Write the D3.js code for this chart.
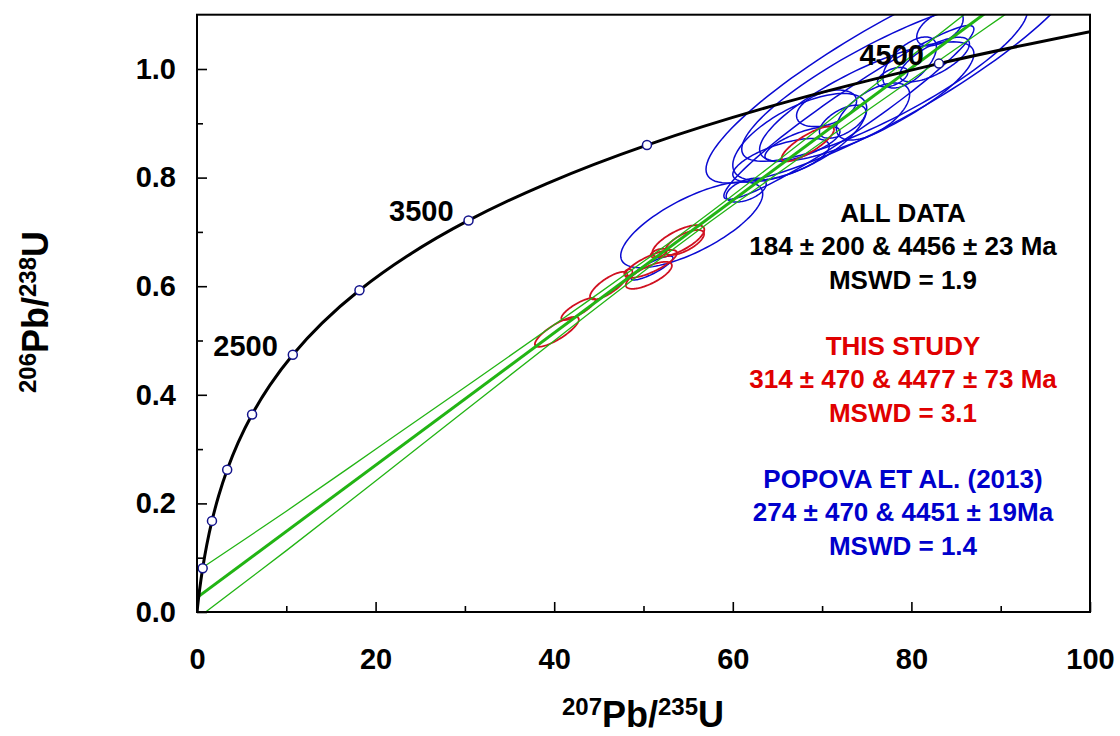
<!DOCTYPE html>
<html>
<head>
<meta charset="utf-8">
<script src="https://cdn.jsdelivr.net/npm/d3@7"></script>
<style>
  body { margin: 0; background: #fff; }
  svg text { font-family: "Liberation Sans", Arial, sans-serif; font-weight: bold; }
</style>
</head>
<body>
<div class="chart"></div>
<script>

	/* ---------------------------------
		Data
	------------------------------------*/

	// concordia curve, ages in Ma
	var concAge = [0, 250, 500, 750, 1000, 1250, 1500, 1750, 2000, 2250, 2500, 2750, 3000, 3250, 3500, 3750, 4000, 4250, 4500, 4686];
	var concX   = [0, 0.279, 0.636, 1.093, 1.677, 2.425, 3.381, 4.604, 6.169, 8.170, 10.730, 14.004, 18.193, 23.551, 30.405, 39.173, 50.389, 64.734, 83.085, 100];
	var concY   = [0, 0.0395, 0.0807, 0.1234, 0.1678, 0.2140, 0.2620, 0.3119, 0.3638, 0.4177, 0.4737, 0.5320, 0.5926, 0.6556, 0.7211, 0.7891, 0.8599, 0.9334, 1.0099, 1.0688];

	// age markers and labelled ages
	var markerAges = [500, 1000, 1500, 2000, 2500, 3000, 3500, 4000, 4500];
	var labelAges  = [2500, 3500, 4500];

	// discordia (best fit) and its error envelope
	var discX   = [0, 100];
	var discY   = [0.0265, 1.2458];
	var envX    = [0, 10, 20, 30, 40, 50, 55, 60, 70, 80, 90, 100];
	var envUp   = [0.075, 0.1856, 0.2997, 0.4140, 0.5289, 0.6454, 0.7053, 0.7673, 0.8946, 1.0237, 1.1532, 1.2829];
	var envLow  = [-0.012, 0.113, 0.2411, 0.3706, 0.4997, 0.6270, 0.6889, 0.7489, 0.8654, 0.9803, 1.0946, 1.2087];

	// error ellipses: centre x, centre y, half width x, half height y, correlation
	var redX   = [40.3, 42.7, 46.1, 51.7, 53.9, 54.6, 50.84, 50.6, 48.3, 68.4];
	var redY   = [0.516, 0.558, 0.601, 0.661, 0.683, 0.6805, 0.641, 0.620, 0.625, 0.862];
	var redSx  = [2.46, 1.90, 2.09, 0.90, 2.91, 2.18, 2.91, 2.58, 0.45, 2.93];
	var redSy  = [0.0276, 0.0203, 0.0254, 0.008, 0.0295, 0.023, 0.0258, 0.0249, 0.0064, 0.0322];
	var redRho = [0.82, 0.82, 0.78, 0.5, 0.72, 0.68, 0.78, 0.72, 0.3, 0.82];

	var blueX   = [55.4, 50.95, 61.5, 70.5, 67.8, 72.3, 79.8, 82.6, 83.2, 77.9, 65.4, 75.7, 78, 77, 75, 67.5, 73];
	var blueY   = [0.713, 0.6335, 0.777, 0.9276, 0.862, 0.903, 1.012, 1.0175, 1.0755, 0.985, 0.832, 0.9217, 1.0, 0.98, 0.94, 0.875, 0.92];
	var blueSx  = [7.95, 2.35, 2.24, 3.36, 4.2, 2.6, 3.0, 3.9, 2.6, 1.7, 5.4, 4.1, 21, 16, 12, 7.5, 14];
	var blueSy  = [0.079, 0.022, 0.022, 0.0337, 0.0322, 0.0304, 0.047, 0.041, 0.033, 0.018, 0.040, 0.0525, 0.21, 0.15, 0.11, 0.08, 0.16];
	var blueRho = [0.72, 0.85, 0.5, 0.4, 0.7, 0.6, 0.6, 0.7, 0.5, 0.5, 0.65, 0.6, 0.88, 0.85, 0.8, 0.65, 0.96];

	// axes
	var xMajor = [0, 20, 40, 60, 80, 100];
	var xMinor = [10, 30, 50, 70, 90];
	var yMajor = [0, 0.2, 0.4, 0.6, 0.8, 1.0];
	var yMinor = [0.1, 0.3, 0.5, 0.7, 0.9];

	// results text
	var resultLines = [
		["ALL DATA", "184 \u00b1 200 & 4456 \u00b1 23 Ma", "MSWD = 1.9"],
		["THIS STUDY", "314 \u00b1 470 & 4477 \u00b1 73 Ma", "MSWD = 3.1"],
		["POPOVA ET AL. (2013)", "274 \u00b1 470 & 4451 \u00b1 19Ma", "MSWD = 1.4"]
	];
	var resultColors = ["#000000", "#e00000", "#0000cc"];


	/* ---------------------------------
		Setup
	------------------------------------*/

	var w = 1120;
	var h = 736;

	var xScale = d3.scaleLinear().domain([0, 100]).range([197, 1090]);
	var yScale = d3.scaleLinear().domain([0, 1.1]).range([612, 14.7]);

	var svg = d3.select(".chart")
				.append("svg")
				.attr("width", w)
				.attr("height", h);

	svg.append("clipPath")
		.attr("id", "plotClip")
		.append("rect")
		.attr("x", xScale(0))
		.attr("y", yScale(1.1))
		.attr("width", xScale(100) - xScale(0))
		.attr("height", yScale(0) - yScale(1.1));

	var plot = svg.append("g").attr("clip-path", "url(#plotClip)");

	// ellipse outline from half widths and correlation
	function ellipsePath(cx, cy, sx, sy, rho) {
		var pts = [];
		var k = Math.sqrt(1 - rho * rho);
		for (var i = 0; i <= 120; i++) {
			var t = i / 120 * 2 * Math.PI;
			pts.push([
				xScale(cx + sx * Math.cos(t)),
				yScale(cy + sy * (rho * Math.cos(t) + k * Math.sin(t)))
			]);
		}
		return d3.line()(pts) + "Z";
	}


	/* ---------------------------------
		Ellipses
	------------------------------------*/

	plot.selectAll(".blueEll")
		.data(blueX)
		.enter()
		.append("path")
		.attr("class", "blueEll")
		.attr("d", function(d, i) { return ellipsePath(blueX[i], blueY[i], blueSx[i], blueSy[i], blueRho[i]); })
		.attr("fill", "none")
		.attr("stroke", "#0a0ad2")
		.attr("stroke-width", 1.5);

	plot.selectAll(".redEll")
		.data(redX)
		.enter()
		.append("path")
		.attr("class", "redEll")
		.attr("d", function(d, i) { return ellipsePath(redX[i], redY[i], redSx[i], redSy[i], redRho[i]); })
		.attr("fill", "none")
		.attr("stroke", "#d01020")
		.attr("stroke-width", 1.8);


	/* ---------------------------------
		Discordia
	------------------------------------*/

	var envLine = d3.line()
		.x(function(d) { return xScale(d[0]); })
		.y(function(d) { return yScale(d[1]); })
		.curve(d3.curveCatmullRom);

	plot.append("path")
		.datum(envX.map(function(d, i) { return [d, envUp[i]]; }))
		.attr("d", envLine)
		.attr("fill", "none")
		.attr("stroke", "#22b414")
		.attr("stroke-width", 1.3);

	plot.append("path")
		.datum(envX.map(function(d, i) { return [d, envLow[i]]; }))
		.attr("d", envLine)
		.attr("fill", "none")
		.attr("stroke", "#22b414")
		.attr("stroke-width", 1.3);

	plot.append("path")
		.datum(discX.map(function(d, i) { return [d, discY[i]]; }))
		.attr("d", d3.line().x(function(d) { return xScale(d[0]); }).y(function(d) { return yScale(d[1]); }))
		.attr("fill", "none")
		.attr("stroke", "#22b414")
		.attr("stroke-width", 3);


	/* ---------------------------------
		Concordia
	------------------------------------*/

	plot.append("path")
		.datum(concX.map(function(d, i) { return [d, concY[i]]; }))
		.attr("d", d3.line()
			.x(function(d) { return xScale(d[0]); })
			.y(function(d) { return yScale(d[1]); })
			.curve(d3.curveCatmullRom))
		.attr("fill", "none")
		.attr("stroke", "#000")
		.attr("stroke-width", 3);

	svg.selectAll(".ageDot")
		.data(markerAges)
		.enter()
		.append("circle")
		.attr("class", "ageDot")
		.attr("cx", function(d) { return xScale(concX[concAge.indexOf(d)]); })
		.attr("cy", function(d) { return yScale(concY[concAge.indexOf(d)]); })
		.attr("r", 4.5)
		.attr("fill", "#fff")
		.attr("stroke", "#14148c")
		.attr("stroke-width", 1.5);

	svg.selectAll(".ageLabel")
		.data(labelAges)
		.enter()
		.append("text")
		.attr("class", "ageLabel")
		.attr("x", function(d) { return xScale(concX[concAge.indexOf(d)]) - 15; })
		.attr("y", function(d) { return yScale(concY[concAge.indexOf(d)]) + 1; })
		.attr("text-anchor", "end")
		.attr("font-size", 29)
		.text(function(d) { return d; });


	/* ---------------------------------
		Axes
	------------------------------------*/

	svg.append("g")
		.attr("transform", "translate(0," + yScale(0) + ")")
		.call(d3.axisBottom(xScale).tickValues(xMajor).tickSize(-10).tickPadding(36).tickFormat(d3.format("d")));
	svg.append("g")
		.attr("transform", "translate(0," + yScale(0) + ")")
		.call(d3.axisBottom(xScale).tickValues(xMinor).tickSize(-6).tickFormat(""));

	svg.append("g")
		.attr("transform", "translate(" + xScale(0) + ",0)")
		.call(d3.axisLeft(yScale).tickValues(yMajor).tickSize(-10).tickPadding(21).tickFormat(d3.format(".1f")));
	svg.append("g")
		.attr("transform", "translate(" + xScale(0) + ",0)")
		.call(d3.axisLeft(yScale).tickValues(yMinor).tickSize(-6).tickFormat(""));

	svg.selectAll(".domain").remove();
	svg.selectAll(".tick line").attr("stroke", "#000").attr("stroke-width", 1.6);
	svg.selectAll(".tick text")
		.attr("fill", "#000")
		.attr("font-size", 29)
		.attr("font-family", "'Liberation Sans', Arial, sans-serif")
		.attr("font-weight", "bold");

	// frame
	svg.append("rect")
		.attr("x", xScale(0))
		.attr("y", yScale(1.1))
		.attr("width", xScale(100) - xScale(0))
		.attr("height", yScale(0) - yScale(1.1))
		.attr("fill", "none")
		.attr("stroke", "#000")
		.attr("stroke-width", 2);

	// axis titles
	function isoTitle(g, a, b, c, d) {
		g.append("tspan").attr("font-size", 24).attr("dy", -12).text(a);
		g.append("tspan").attr("font-size", 36).attr("dy", 12).text(b);
		g.append("tspan").attr("font-size", 24).attr("dy", -12).text(c);
		g.append("tspan").attr("font-size", 36).attr("dy", 12).text(d);
	}

	var xTitle = svg.append("text")
		.attr("x", 643)
		.attr("y", 727)
		.attr("text-anchor", "middle");
	isoTitle(xTitle, "207", "Pb/", "235", "U");

	var yTitle = svg.append("text")
		.attr("transform", "translate(48,312) rotate(-90)")
		.attr("text-anchor", "middle");
	isoTitle(yTitle, "206", "Pb/", "238", "U");


	/* ---------------------------------
		Results text
	------------------------------------*/

	var baseY = [222, 355, 488];

	resultLines.forEach(function(lines, j) {
		svg.selectAll(".res" + j)
			.data(lines)
			.enter()
			.append("text")
			.attr("x", 903)
			.attr("y", function(d, i) { return baseY[j] + i * 33.3; })
			.attr("text-anchor", "middle")
			.attr("font-size", 26)
			.attr("fill", resultColors[j])
			.text(function(d) { return d; });
	});

</script>
</body>
</html>
